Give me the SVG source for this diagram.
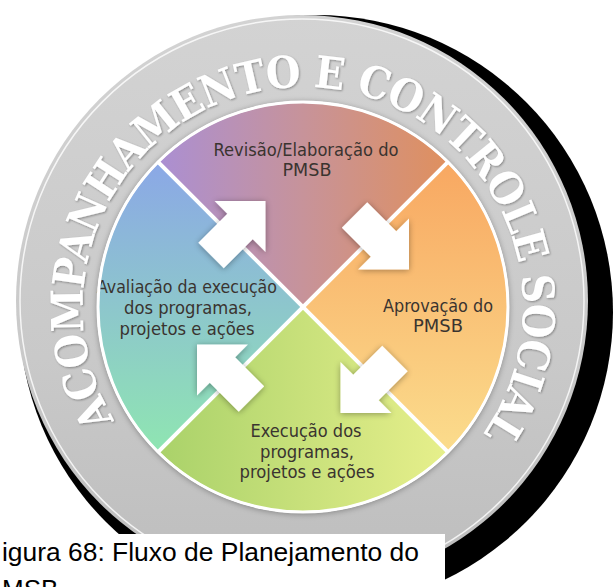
<svg xmlns="http://www.w3.org/2000/svg" width="614" height="587" viewBox="0 0 614 587">
  <defs>
    <linearGradient id="gGray" x1="0" y1="15" x2="0" y2="587" gradientUnits="userSpaceOnUse">
      <stop offset="0" stop-color="#d3d3d3"/>
      <stop offset="0.6" stop-color="#c9c9c9"/>
      <stop offset="1" stop-color="#bdbdbd"/>
    </linearGradient>
    <linearGradient id="gTop" x1="160" y1="0" x2="446" y2="0" gradientUnits="userSpaceOnUse">
      <stop offset="0" stop-color="#ab8fd2"/>
      <stop offset="0.5" stop-color="#c7939a"/>
      <stop offset="1" stop-color="#df905f"/>
    </linearGradient>
    <linearGradient id="gRight" x1="0" y1="165" x2="0" y2="450" gradientUnits="userSpaceOnUse">
      <stop offset="0" stop-color="#f8a862"/>
      <stop offset="1" stop-color="#fbdc8c"/>
    </linearGradient>
    <linearGradient id="gBottom" x1="160" y1="0" x2="446" y2="0" gradientUnits="userSpaceOnUse">
      <stop offset="0" stop-color="#aad26a"/>
      <stop offset="1" stop-color="#e6ef8b"/>
    </linearGradient>
    <linearGradient id="gLeft" x1="0" y1="165" x2="0" y2="450" gradientUnits="userSpaceOnUse">
      <stop offset="0" stop-color="#8ba8e6"/>
      <stop offset="1" stop-color="#8fe5b2"/>
    </linearGradient>
    <filter id="fShadow" x="-30%" y="-30%" width="160%" height="160%">
      <feGaussianBlur in="SourceAlpha" stdDeviation="3"/>
      <feOffset dx="0" dy="1" result="b"/>
      <feComponentTransfer><feFuncA type="linear" slope="0.35"/></feComponentTransfer>
      <feMerge><feMergeNode/><feMergeNode in="SourceGraphic"/></feMerge>
    </filter>
    <filter id="fText" x="-10%" y="-10%" width="120%" height="120%">
      <feGaussianBlur in="SourceAlpha" stdDeviation="1.2"/>
      <feOffset dx="1" dy="1"/>
      <feComponentTransfer><feFuncA type="linear" slope="0.35"/></feComponentTransfer>
      <feMerge><feMergeNode/><feMergeNode in="SourceGraphic"/></feMerge>
    </filter>
    <path id="ringPath" d="M114.4,420.3 A220,220 0 1 1 471.5,448.4"/>
    <polygon id="arrow" points="0,0 -36,-36 -36,-18 -77,-18 -77,18 -36,18 -36,36"/>
    <style>
      .lbl { font-family: 'Liberation Sans Narrow','DejaVu Sans Condensed','DejaVu Sans',sans-serif; font-size: 18px; fill: #3a3430; text-anchor: middle; }
      .ring { font-family: 'DejaVu Serif Condensed','DejaVu Serif','Liberation Serif',serif; font-weight: bold; font-stretch: condensed; font-size: 44px; fill: #ffffff; }
      .cap { font-family: 'Liberation Sans',Arial,sans-serif; font-size: 26px; fill: #000000; }
      .arr { fill: #ffffff; }
    </style>
  </defs>

  <rect x="0" y="0" width="614" height="587" fill="#ffffff"/>

  <g id="ring">
    <circle cx="316" cy="312" r="297" fill="#000000"/>
    <circle cx="302" cy="301" r="286" fill="url(#gGray)"/>
    <circle cx="302" cy="301" r="282" fill="none" stroke="#ffffff" stroke-width="1.5" stroke-opacity="0.8"/>
    <text class="ring" filter="url(#fText)"><textPath href="#ringPath" textLength="945" lengthAdjust="spacing">ACOMPANHAMENTO E CONTROLE SOCIAL</textPath></text>
  </g>

  <g id="disc" filter="url(#fShadow)">
    <circle cx="303" cy="307" r="206" fill="#ffffff"/>
  </g>

  <g id="node-revisao">
    <path d="M303,307 L158.7,162.7 A204,204 0 0 1 447.3,162.7 Z" fill="url(#gTop)"/>
    <text class="lbl" x="306" y="156" textLength="185" lengthAdjust="spacingAndGlyphs">Revisão/Elaboração do</text>
    <text class="lbl" x="307" y="176" textLength="49" lengthAdjust="spacingAndGlyphs">PMSB</text>
  </g>
  <g id="node-aprovacao">
    <path d="M303,307 L447.3,162.7 A204,204 0 0 1 447.3,451.3 Z" fill="url(#gRight)"/>
    <text class="lbl" x="438" y="312" textLength="110" lengthAdjust="spacingAndGlyphs">Aprovação do</text>
    <text class="lbl" x="438" y="332" textLength="50" lengthAdjust="spacingAndGlyphs">PMSB</text>
  </g>
  <g id="node-execucao">
    <path d="M303,307 L447.3,451.3 A204,204 0 0 1 158.7,451.3 Z" fill="url(#gBottom)"/>
    <text class="lbl" x="306" y="437" textLength="111" lengthAdjust="spacingAndGlyphs">Execução dos</text>
    <text class="lbl" x="307" y="458" textLength="94" lengthAdjust="spacingAndGlyphs">programas,</text>
    <text class="lbl" x="307" y="478" textLength="135" lengthAdjust="spacingAndGlyphs">projetos e ações</text>
  </g>
  <g id="node-avaliacao">
    <path d="M303,307 L158.7,451.3 A204,204 0 0 1 158.7,162.7 Z" fill="url(#gLeft)"/>
    <text class="lbl" x="187" y="293" textLength="180" lengthAdjust="spacingAndGlyphs">Avaliação da execução</text>
    <text class="lbl" x="188" y="314" textLength="128" lengthAdjust="spacingAndGlyphs">dos programas,</text>
    <text class="lbl" x="187" y="335" textLength="135" lengthAdjust="spacingAndGlyphs">projetos e ações</text>
  </g>

  <g id="dividers" stroke="#ffffff" stroke-width="4">
    <line x1="158.7" y1="162.7" x2="447.3" y2="451.3"/>
    <line x1="447.3" y1="162.7" x2="158.7" y2="451.3"/>
    <circle cx="303" cy="307" r="205" fill="none" stroke-width="3"/>
  </g>

  <g id="connectors" filter="url(#fShadow)">
    <use href="#arrow" class="arr" transform="translate(265.5,201) rotate(-45)"/>
    <use href="#arrow" class="arr" transform="rotate(90 303 307) translate(265.5,201) rotate(-45)"/>
    <use href="#arrow" class="arr" transform="rotate(180 303 307) translate(265.5,201) rotate(-45)"/>
    <use href="#arrow" class="arr" transform="rotate(270 303 307) translate(265.5,201) rotate(-45)"/>
  </g>

  <g id="caption">
    <rect x="0" y="534" width="445" height="53" fill="#ffffff"/>
    <text class="cap" x="2" y="561" textLength="417" lengthAdjust="spacingAndGlyphs">igura 68: Fluxo de Planejamento do</text>
    <text class="cap" x="2" y="598">MSB</text>
  </g>
</svg>
